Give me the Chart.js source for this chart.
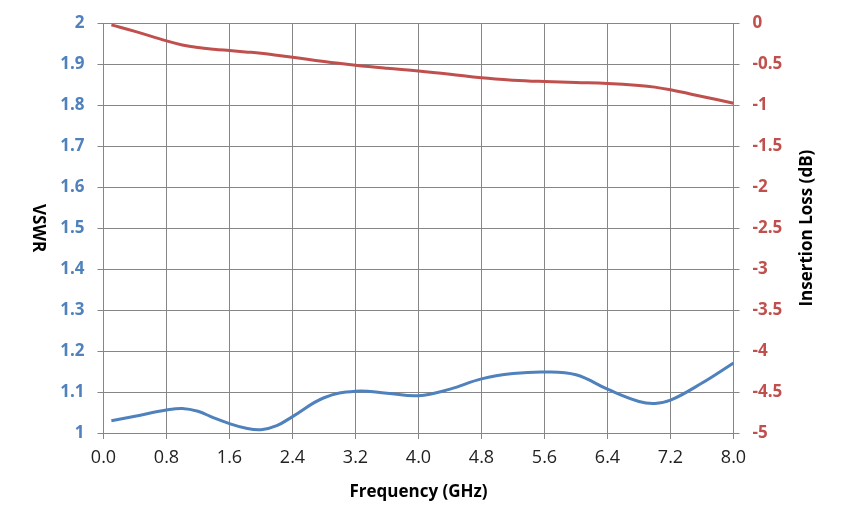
<!DOCTYPE html>
<html>
<head>
<meta charset="utf-8">
<script src="https://cdn.jsdelivr.net/npm/chart.js@4"></script>
<style>
html,body{margin:0;padding:0;background:#fff;}
#wrap{width:844px;height:529px;}
</style>
</head>
<body>
<div id="wrap"><canvas id="c" width="844" height="529"></canvas></div>
<script>
const freqs = [0.1, 0.4, 0.8, 1.0, 1.2, 1.4, 1.6, 1.8, 2.0, 2.2, 2.4, 2.8, 3.2, 3.6, 4.0, 4.4, 4.8, 5.2, 5.6, 6.0, 6.4, 6.8, 7.0, 7.2, 7.6, 8.0];
const vswr = [1.030, 1.041, 1.056, 1.060, 1.053, 1.037, 1.023, 1.012, 1.008, 1.018, 1.040, 1.086, 1.102, 1.097, 1.091, 1.107, 1.132, 1.145, 1.149, 1.142, 1.107, 1.077, 1.072, 1.080, 1.122, 1.171];
const insertionLoss = [-0.02, -0.10, -0.216, -0.265, -0.297, -0.318, -0.334, -0.35, -0.366, -0.39, -0.415, -0.468, -0.512, -0.549, -0.582, -0.622, -0.667, -0.695, -0.712, -0.724, -0.736, -0.76, -0.78, -0.813, -0.894, -0.976];
const xTitle = 'Frequency (GHz)';
const yLeftTitle = 'VSWR';
const yRightTitle = 'Insertion Loss (dB)';

const BLUE = '#4F81BD', RED = '#C0504D', GRID = '#868686';
const FONT = "'Open Sans', 'Noto Sans', sans-serif";

const titlePlugin = {
  id: 'titles',
  afterDraw(chart) {
    const ctx = chart.ctx, a = chart.chartArea;
    ctx.save();
    ctx.fillStyle = '#000';
    ctx.font = 'bold 17px ' + FONT;
    ctx.textAlign = 'center';
    ctx.textBaseline = 'middle';
    ctx.fillText(xTitle, (a.left + a.right) / 2, 492);
    ctx.save();
    ctx.translate(38, (a.top + a.bottom) / 2);
    ctx.rotate(Math.PI / 2);
    ctx.fillText(yLeftTitle, 0, 0);
    ctx.restore();
    ctx.save();
    ctx.translate(807, (a.top + a.bottom) / 2);
    ctx.rotate(-Math.PI / 2);
    ctx.fillText(yRightTitle, 0, 0);
    ctx.restore();
    ctx.restore();
  }
};

new Chart(document.getElementById('c'), {
  type: 'line',
  data: {
    datasets: [
      {
        label: 'VSWR',
        data: freqs.map((f, i) => ({x: f, y: vswr[i]})),
        borderColor: BLUE, borderWidth: 3, pointRadius: 0, tension: 0.4,
        yAxisID: 'y', fill: false
      },
      {
        label: 'Insertion Loss',
        data: freqs.map((f, i) => ({x: f, y: insertionLoss[i]})),
        borderColor: RED, borderWidth: 3, pointRadius: 0, tension: 0.4,
        yAxisID: 'y1', fill: false
      }
    ]
  },
  options: {
    responsive: false,
    animation: false,
    devicePixelRatio: 1,
    layout: {padding: {top: 23, right: 0, bottom: 0, left: 0}},
    plugins: {legend: {display: false}, tooltip: {enabled: false}},
    scales: {
      x: {
        type: 'linear', min: 0, max: 8,
        ticks: {stepSize: 0.8, color: '#222', font: {family: FONT, size: 18}, padding: 8,
          callback: v => Number(v).toFixed(1)},
        grid: {color: GRID, lineWidth: 1, tickLength: 6, tickColor: GRID},
        border: {color: GRID},
        afterFit(s) { s.height = 96; }
      },
      y: {
        position: 'left', min: 1, max: 2,
        ticks: {stepSize: 0.1, color: BLUE, font: {family: FONT, size: 17, weight: 'bold'}, padding: 13,
          callback: v => String(Number(Number(v).toFixed(1)))},
        grid: {color: GRID, lineWidth: 1, tickLength: 6, tickColor: GRID},
        border: {color: GRID},
        afterFit(s) { s.width = 103.5; }
      },
      y1: {
        position: 'right', min: -5, max: 0,
        ticks: {stepSize: 0.5, color: RED, font: {family: FONT, size: 17, weight: 'bold'}, padding: 13,
          callback: v => String(Number(Number(v).toFixed(1)))},
        grid: {drawOnChartArea: false, color: GRID, lineWidth: 1, tickLength: 6, tickColor: GRID},
        border: {color: GRID},
        afterFit(s) { s.width = 110.5; }
      }
    }
  },
  plugins: [titlePlugin]
});
</script>
</body>
</html>
